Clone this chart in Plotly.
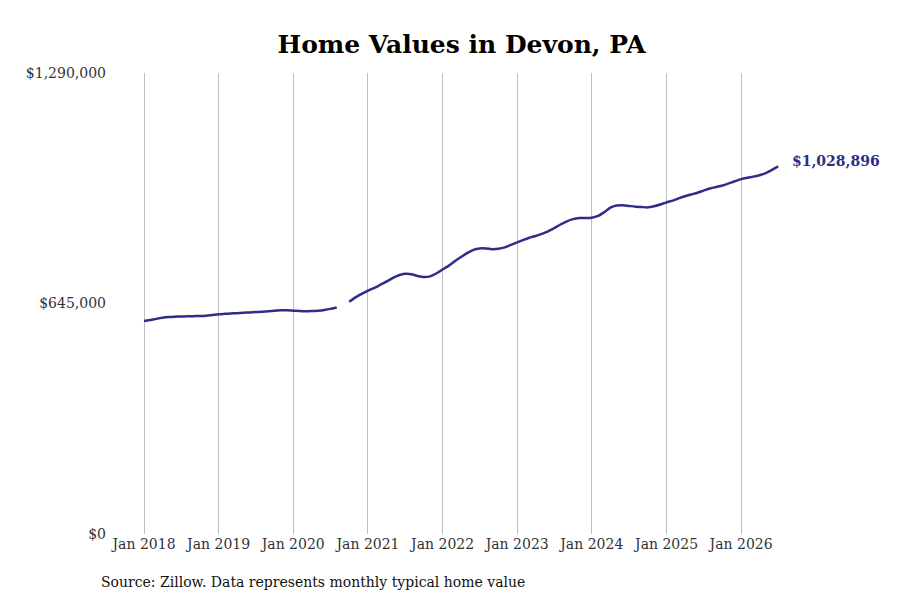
import plotly.graph_objects as go

# Valores mensuales (miles de dólares), de ene 2018 a jul 2026; sep 2020 sin dato
months = [f"{y}-{m:02d}-01" for y in range(2018, 2027) for m in range(1, 13)][:103]

values_2018 = [596, 599, 602, 605, 607, 608, 608.5, 609, 609.5, 610, 611, 613]
values_2019 = [615, 616, 617, 618, 619, 620, 621, 622, 623, 625, 626, 626]
values_2020 = [625, 624, 623.5, 624, 625, 627, 630, 634, None, 650, 662, 672]
values_2021 = [681, 689, 697, 706, 716, 724, 728, 727, 722, 719, 721, 729]
values_2022 = [740, 751, 763, 775, 786, 795, 799, 799, 797, 798, 802, 809]
values_2023 = [816, 823, 829, 834, 840, 847, 856, 866, 875, 881, 884, 884]
values_2024 = [885, 890, 900, 913, 919, 920, 918, 916, 915, 914, 917, 922]
values_2025 = [928, 933, 939, 945, 950, 955, 961, 967, 971, 975, 981, 987]
values_2026 = [993, 997, 1000, 1004, 1010, 1019, 1028.896]

values = (values_2018 + values_2019 + values_2020 + values_2021 + values_2022
          + values_2023 + values_2024 + values_2025 + values_2026)
values = [v * 1000 if v is not None else None for v in values]

y_ticks = [0, 645000, 1290000]
line_color = '#2e2d88'
font_family = 'DejaVu Serif'

fig = go.Figure()

fig.add_trace(go.Scatter(
    x=months,
    y=values,
    mode='lines',
    line=dict(color=line_color, width=2.5, shape='spline', smoothing=0.6),
    connectgaps=False,
    hoverinfo='skip',
    showlegend=False
))

# Etiqueta del último valor
fig.add_annotation(
    x=months[-1], y=values[-1],
    text=f"<b>${values[-1]:,.0f}</b>",
    showarrow=False,
    xanchor='left', yshift=5, xshift=12,
    font=dict(family=font_family, size=14, color=line_color)
)

# Fuente
fig.add_annotation(
    x=-0.0234, y=-0.104, xref='paper', yref='paper',
    text='Source: Zillow. Data represents monthly typical home value',
    showarrow=False,
    xanchor='left', yanchor='middle',
    font=dict(family=font_family, size=14, color='#111')
)

fig.update_layout(
    width=900, height=600,
    margin=dict(l=107, r=108, t=65, b=74),
    paper_bgcolor='white',
    plot_bgcolor='white',
    title=dict(
        text='<b>Home Values in Devon, PA</b>',
        x=0.504, xanchor='center',
        y=0.94, yanchor='middle',
        font=dict(family=font_family, size=25, color='#000')
    ),
    font=dict(family=font_family, size=14, color='#333'),
    xaxis=dict(
        range=['2017-08-12', '2026-10-16'],
        dtick='M12',
        tick0='2018-01-01',
        tickformat='%b %Y',
        showgrid=True,
        gridcolor='#bdbdbd',
        gridwidth=1,
        zeroline=False,
        showline=False,
        ticks='',
        tickfont=dict(family=font_family, size=14, color='#333')
    ),
    yaxis=dict(
        range=[0, 1290000],
        tickvals=y_ticks,
        ticktext=[f"${v:,}" for v in y_ticks],
        showgrid=False,
        zeroline=False,
        showline=False,
        ticks='',
        ticklabelstandoff=8,
        tickfont=dict(family=font_family, size=14, color='#333')
    )
)

fig.write_html('out.html')
